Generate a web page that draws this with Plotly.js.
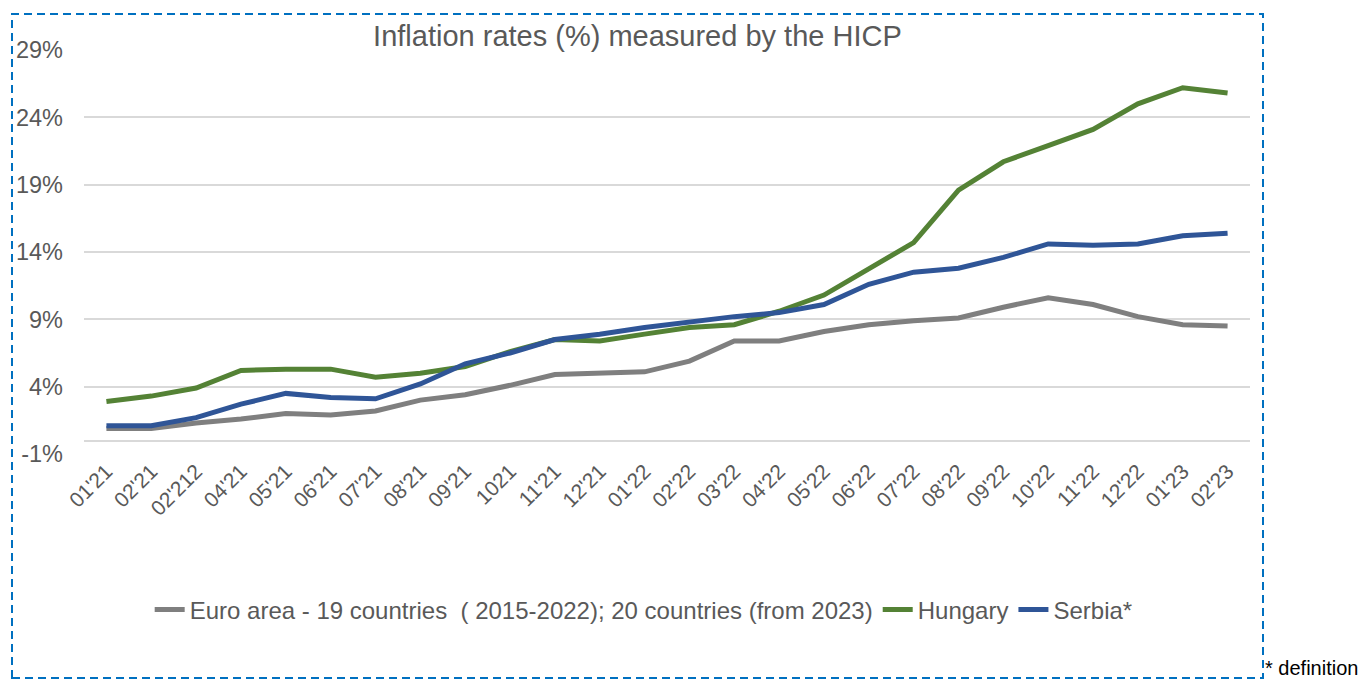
<!DOCTYPE html>
<html>
<head>
<meta charset="utf-8">
<script src="https://cdn.plot.ly/plotly-3.0.1.min.js"></script>
<style>
html,body{margin:0;padding:0;background:#fff;}
#chart{width:1365px;height:680px;}
</style>
</head>
<body>
<div id="chart"></div>
<script>
const months = ["01'21","02'21","02'212","04'21","05'21","06'21","07'21","08'21","09'21","1021","11'21","12'21","01'22","02'22","03'22","04'22","05'22","06'22","07'22","08'22","09'22","10'22","11'22","12'22","01'23","02'23"];
const euroArea = [0.9,0.9,1.3,1.6,2.0,1.9,2.2,3.0,3.4,4.1,4.9,5.0,5.1,5.9,7.4,7.4,8.1,8.6,8.9,9.1,9.9,10.6,10.1,9.2,8.6,8.5];
const hungary = [2.9,3.3,3.9,5.2,5.3,5.3,4.7,5.0,5.5,6.6,7.5,7.4,7.9,8.4,8.6,9.6,10.8,12.7,14.7,18.6,20.7,21.9,23.1,25.0,26.2,25.8];
const serbia = [1.1,1.1,1.7,2.7,3.5,3.2,3.1,4.2,5.7,6.5,7.5,7.9,8.4,8.8,9.2,9.5,10.1,11.6,12.5,12.8,13.6,14.6,14.5,14.6,15.2,15.4];
const yTicks = [-1,4,9,14,19,24,29];
const yTickText = ["-1%","4%","9%","14%","19%","24%","29%"];
const seriesNames = ["Euro area - 19 countries  ( 2015-2022); 20 countries (from 2023)","Hungary","Serbia*"];

const font = "'Liberation Sans', Arial, sans-serif";
const txt = "#595959";

const traces = [
  {x: months, y: euroArea, name: seriesNames[0], type: 'scatter', mode: 'lines', line: {color: '#7f7f7f', width: 5}},
  {x: months, y: hungary, name: seriesNames[1], type: 'scatter', mode: 'lines', line: {color: '#548235', width: 5}},
  {x: months, y: serbia, name: seriesNames[2], type: 'scatter', mode: 'lines', line: {color: '#2f5597', width: 5}}
];

const layout = {
  width: 1365, height: 680,
  margin: {l: 84, r: 115, t: 50, b: 226},
  paper_bgcolor: '#fff', plot_bgcolor: '#fff',
  font: {family: font, color: txt},
  title: {text: 'Inflation rates (%) measured by the HICP', font: {family: font, size: 29, color: txt}, x: 0.467, xanchor: 'center', y: 0.948, yanchor: 'middle'},
  xaxis: {
    type: 'category', range: [-0.5, 25.5], tickangle: -45,
    tickfont: {family: font, size: 21, color: txt},
    showgrid: false, showline: false, ticks: '', zeroline: false
  },
  yaxis: {
    range: [-1, 29], tickmode: 'array', tickvals: yTicks, ticktext: yTickText,
    tickfont: {family: font, size: 23.5, color: txt},
    showgrid: true, gridcolor: '#d9d9d9', gridwidth: 1.5,
    zeroline: true, zerolinecolor: '#d9d9d9', zerolinewidth: 1.5,
    showline: false, ticks: '', ticklabelstandoff: 20
  },
  showlegend: true,
  legend: {orientation: 'h', x: 0.48, xanchor: 'center', y: -0.386, yanchor: 'middle', font: {family: font, size: 24, color: txt}, bgcolor: 'rgba(0,0,0,0)'},
  shapes: [
    {type: 'rect', xref: 'paper', yref: 'paper', x0: (12-84)/1166, x1: (1263-84)/1166, y0: (454-678)/404, y1: (454-14)/404,
     line: {color: '#0070c0', width: 2, dash: '8px,5px'}, fillcolor: 'rgba(0,0,0,0)'}
  ],
  annotations: [
    {xref: 'paper', yref: 'paper', x: (1263-84)/1166, y: (454-668)/404, xanchor: 'left', yanchor: 'middle', showarrow: false,
     text: '* definition', font: {family: font, size: 20, color: '#000'}}
  ]
};

Plotly.newPlot('chart', traces, layout, {displayModeBar: false, responsive: false});
</script>
</body>
</html>
